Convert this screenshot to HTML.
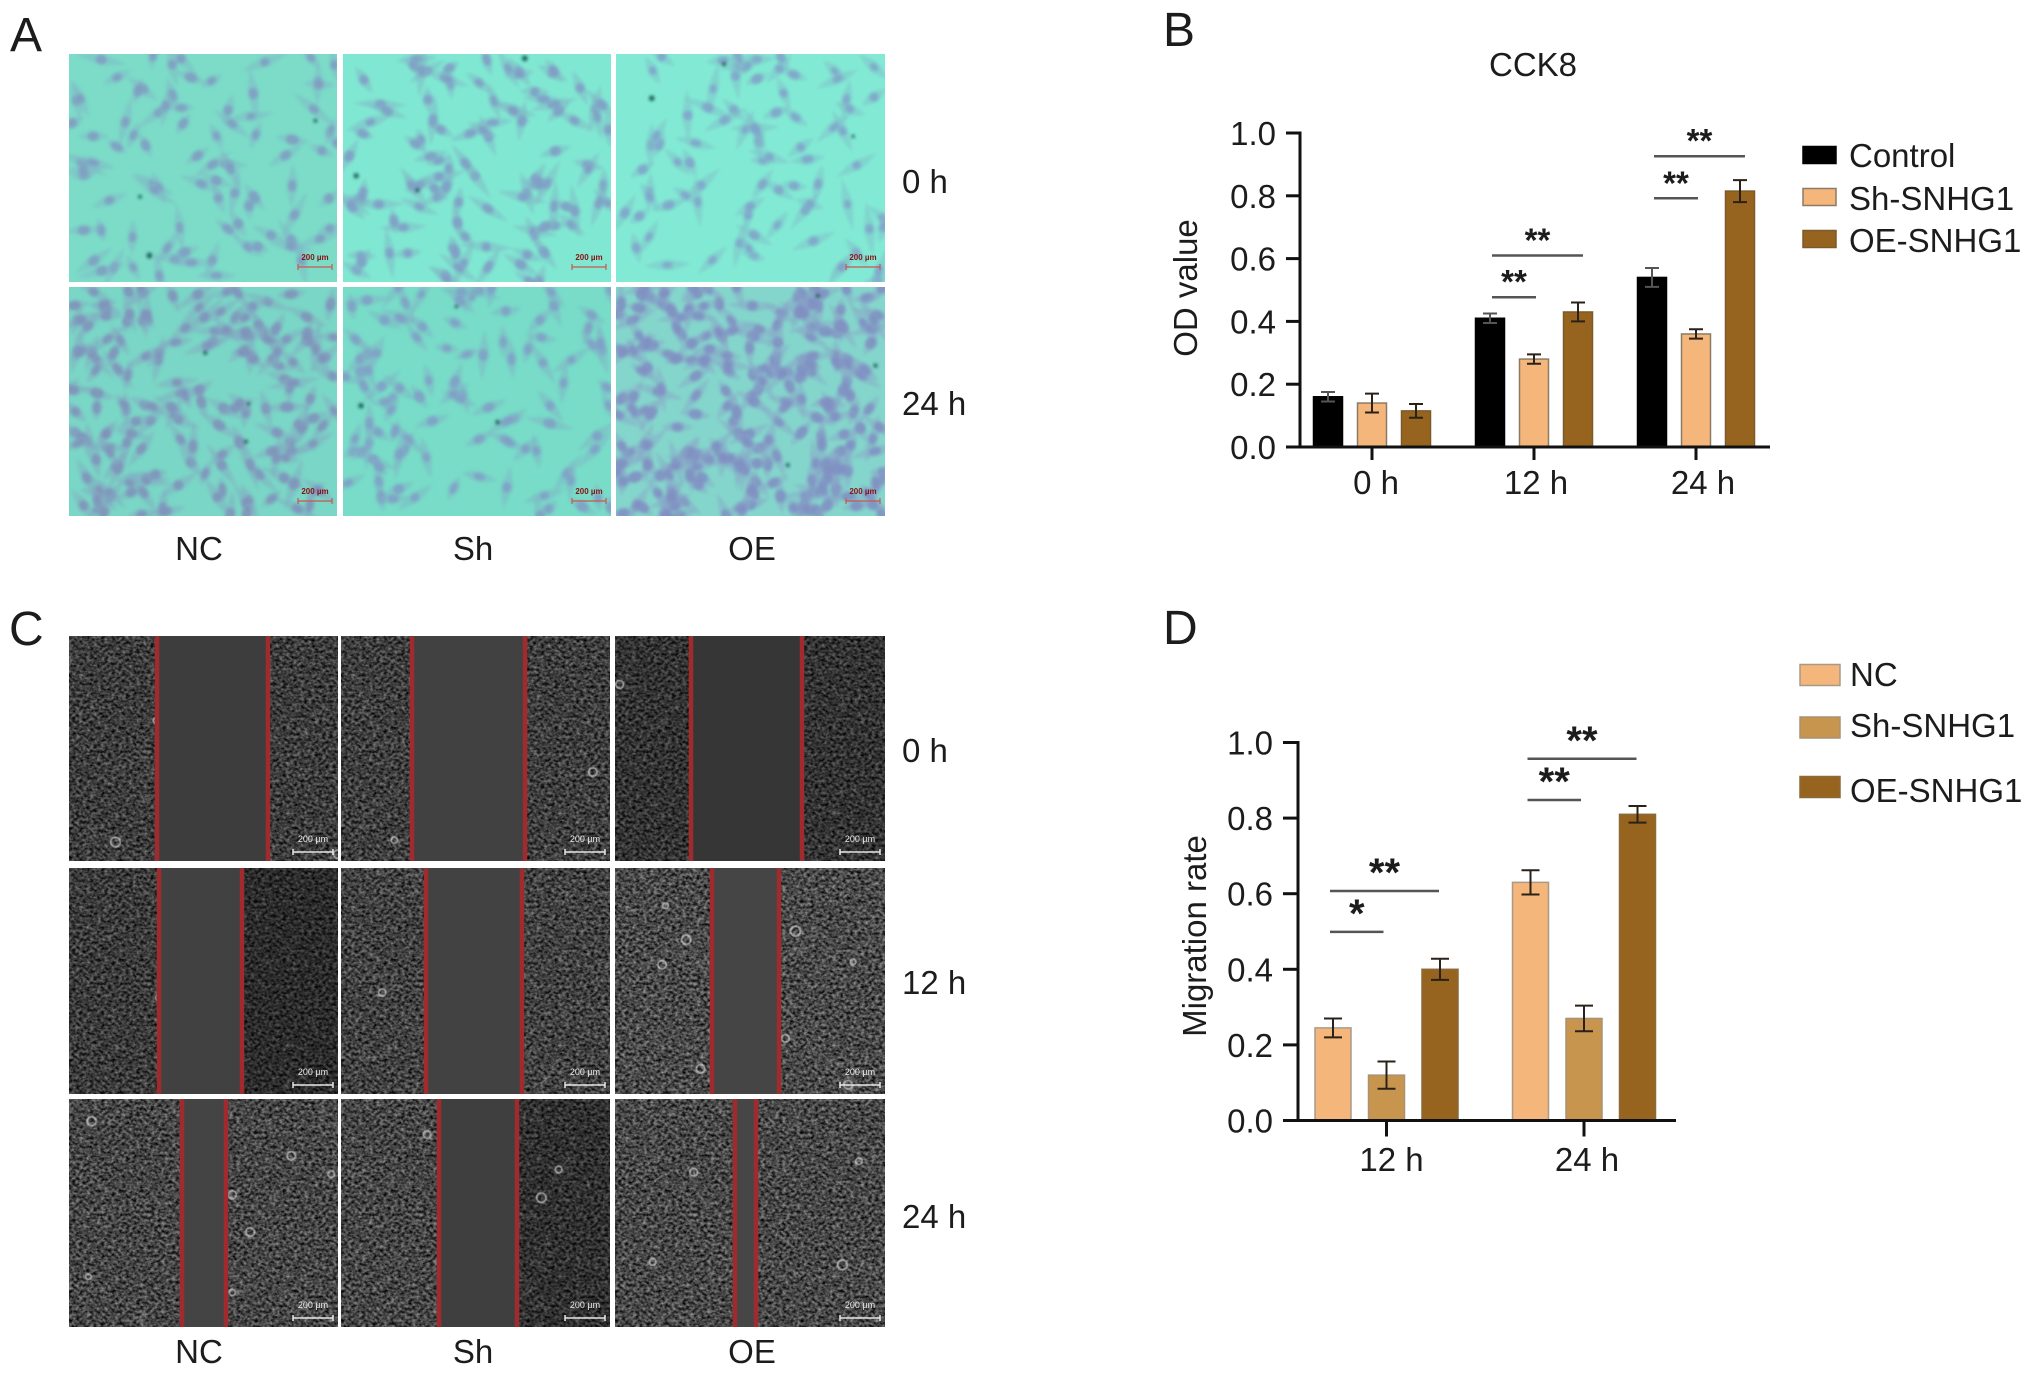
<!DOCTYPE html>
<html lang="en">
<head>
<meta charset="utf-8">
<title>SNHG1 CCK8 and migration figure</title>
<style>
html,body{margin:0;padding:0;background:#fff;width:2032px;height:1376px;overflow:hidden}
svg text{font-family:"Liberation Sans",sans-serif;fill:#1c1c1c}
</style>
</head>
<body>
<svg id="figure" xmlns="http://www.w3.org/2000/svg" width="2032" height="1376" viewBox="0 0 2032 1376">
  <defs>
    <filter id="phase" x="0" y="0" width="100%" height="100%" color-interpolation-filters="sRGB">
      <feTurbulence type="fractalNoise" baseFrequency="0.28 0.34" numOctaves="2" seed="7"/>
      <feColorMatrix type="matrix" values="0.9 0 0 0 -0.15  0.9 0 0 0 -0.15  0.9 0 0 0 -0.15  0 0 0 0 1"/>
    </filter>
    <filter id="soft" x="-5%" y="-5%" width="110%" height="110%"><feGaussianBlur stdDeviation="1.5"/></filter>
    <filter id="softer" x="-5%" y="-5%" width="110%" height="110%"><feGaussianBlur stdDeviation="0.6"/></filter>
  </defs>
  <g id="panelA"></g>
  <g id="panelC"></g>
  <g id="chartB"></g>
  <g id="chartD"></g>

  <g font-size="48">
    <text x="10" y="51">A</text>
    <text x="1163" y="46">B</text>
    <text x="9" y="645">C</text>
    <text x="1163" y="644">D</text>
  </g>
  <g font-size="33">
    <text x="902" y="193">0 h</text>
    <text x="902" y="415">24 h</text>
    <text x="199" y="560" text-anchor="middle">NC</text>
    <text x="473" y="560" text-anchor="middle">Sh</text>
    <text x="752" y="560" text-anchor="middle">OE</text>
  </g>
  <g font-size="33">
    <text x="902" y="762">0 h</text>
    <text x="902" y="994">12 h</text>
    <text x="902" y="1228">24 h</text>
    <text x="199" y="1363" text-anchor="middle">NC</text>
    <text x="473" y="1363" text-anchor="middle">Sh</text>
    <text x="752" y="1363" text-anchor="middle">OE</text>
  </g>
</svg>
<script>
/* ---------- chart data ---------- */
const yTickValues = [0, 0.2, 0.4, 0.6, 0.8, 1.0];
const yTickText = ['0.0', '0.2', '0.4', '0.6', '0.8', '1.0'];

const bCategories = ['0 h', '12 h', '24 h'];
const bSeriesNames = ['Control', 'Sh-SNHG1', 'OE-SNHG1'];
const bControl = [0.16, 0.41, 0.54];
const bSh = [0.14, 0.28, 0.36];
const bOE = [0.115, 0.43, 0.815];
const bControlErr = [0.015, 0.015, 0.03];
const bShErr = [0.03, 0.015, 0.015];
const bOEErr = [0.022, 0.03, 0.035];
const bSigGroups = [1, 1, 2, 2];
const bSigEndSeries = [1, 2, 1, 2];
const bSigLevels = [0.477, 0.61, 0.792, 0.926];
const bSigMarks = ['**', '**', '**', '**'];

const dCategories = ['12 h', '24 h'];
const dSeriesNames = ['NC', 'Sh-SNHG1', 'OE-SNHG1'];
const dNC = [0.245, 0.63];
const dSh = [0.12, 0.27];
const dOE = [0.40, 0.81];
const dNCErr = [0.025, 0.032];
const dShErr = [0.036, 0.034];
const dOEErr = [0.028, 0.022];
const dSigGroups = [0, 0, 1, 1];
const dSigEndSeries = [1, 2, 1, 2];
const dSigLevels = [0.499, 0.607, 0.848, 0.957];
const dSigMarks = ['*', '**', '**', '**'];

const NS = 'http://www.w3.org/2000/svg';
function el(tag, attrs, parent) {
  const n = document.createElementNS(NS, tag);
  for (const k in attrs) n.setAttribute(k, attrs[k]);
  if (parent) parent.appendChild(n);
  return n;
}

/* ---------- bar charts ---------- */
function drawChart(root, cfg) {
  const y = v => cfg.y0 - cfg.yScale * v;
  const groupX = i => cfg.groupStart + cfg.groupStep * i;
  const barX = (g, s) => groupX(g) + (s - 1) * cfg.barStep;

  cfg.values.forEach((vals, s) => {
    vals.forEach((v, g) => {
      const cx = barX(g, s);
      const bar = el('rect', {x: cx - cfg.barW / 2, y: y(v), width: cfg.barW, height: cfg.y0 - y(v), fill: cfg.colors[s], stroke: cfg.strokes[s], 'stroke-width': 1.5}, root);
      
      
      const e = cfg.errors[s][g];
      const d = 'M' + cx + ' ' + y(v + e) + 'V' + y(v - e) + 'M' + (cx - cfg.capW) + ' ' + y(v + e) + 'H' + (cx + cfg.capW) + 'M' + (cx - cfg.capW) + ' ' + y(v - e) + 'H' + (cx + cfg.capW);
      const err = el('path', {d: d, fill: 'none', stroke: s === 0 && cfg.colors[0] === '#000000' ? '#555' : '#2a2118', 'stroke-width': 2}, root);
      
      
    });
  });

  const yAxis = el('line', {x1: cfg.axisX, x2: cfg.axisX, y1: y(1) - 1.5, y2: cfg.y0, stroke: '#111', 'stroke-width': 3}, root);
  
  
  const xAxis = el('line', {x1: cfg.axisX - cfg.tickLen, x2: cfg.axisEnd, y1: cfg.y0, y2: cfg.y0, stroke: '#111', 'stroke-width': 3}, root);
  
  

  yTickValues.forEach((v, i) => {
    const t = el('line', {x1: cfg.axisX - cfg.tickLen, x2: cfg.axisX, y1: y(v), y2: y(v), stroke: '#111', 'stroke-width': 3}, root);
    
    
    const l = el('text', {x: cfg.tickLabelX, y: y(v) + 12, 'text-anchor': 'end', 'font-size': 33}, root);
    l.textContent = yTickText[i];
    
    
  });

  cfg.categories.forEach((c, i) => {
    const t = el('line', {x1: groupX(i), x2: groupX(i), y1: cfg.y0, y2: cfg.y0 + cfg.xTickLen, stroke: '#111', 'stroke-width': 3}, root);
    
    
    const l = el('text', {x: groupX(i) + cfg.catOffset[i], y: cfg.catY, 'text-anchor': 'middle', 'font-size': 33}, root);
    l.textContent = c;
    
    
  });

  cfg.sigGroups.forEach((g, i) => {
    const x1 = barX(g, 0) + cfg.sigPad;
    const x2 = barX(g, cfg.sigEnd[i]) + cfg.sigPad + (cfg.sigEnd[i] === 2 ? cfg.sigLongPad : 0);
    const ly = y(cfg.sigLevels[i]);
    const line = el('line', {x1: x1, x2: x2, y1: ly, y2: ly, stroke: '#555', 'stroke-width': 2.5}, root);
    
    
    const m = el('text', {x: (x1 + x2) / 2, y: ly + cfg.starDy, 'text-anchor': 'middle', 'font-size': cfg.starSize, 'font-weight': 'bold'}, root);
    m.textContent = cfg.sigMarks[i];
    
    
  });

  const yt = el('text', {transform: 'translate(' + cfg.yTitleX + ' ' + cfg.yTitleY + ') rotate(-90)', 'text-anchor': 'middle', 'font-size': 33}, root);
  yt.textContent = cfg.yTitle;
  
  

  cfg.seriesNames.forEach((name, i) => {
    const sw = el('rect', {x: cfg.legendX, y: cfg.legendY[i] - cfg.swH / 2, width: cfg.swW, height: cfg.swH, fill: cfg.colors[i], stroke: cfg.strokes[i], 'stroke-width': 1.5}, root);
    
    
    const tx = el('text', {x: cfg.legendTextX, y: cfg.legendTextY[i], 'font-size': 33}, root);
    tx.textContent = name;
    
    
  });
}

const rootB = document.getElementById('chartB');
const titleB = el('text', {x: 1533, y: 76, 'text-anchor': 'middle', 'font-size': 33}, rootB);
titleB.textContent = 'CCK8';



drawChart(rootB, {
  y0: 447, yScale: 314, groupStart: 1372, groupStep: 162, barStep: 44, barW: 29, capW: 7,
  axisX: 1300, axisEnd: 1770, tickLen: 14, xTickLen: 13, tickLabelX: 1276, catOffset: [4, 2, 7], catY: 494,
  categories: bCategories, seriesNames: bSeriesNames,
  values: [bControl, bSh, bOE], errors: [bControlErr, bShErr, bOEErr],
  colors: ['#000000', '#f4b67a', '#96641f'], strokes: ['#000000', '#8d7a66', '#7d5a2a'],
  sigGroups: bSigGroups, sigEnd: bSigEndSeries, sigLevels: bSigLevels, sigMarks: bSigMarks, sigPad: 2, sigLongPad: 3,
  starSize: 33, starDy: -4,
  yTitle: 'OD value', yTitleX: 1197, yTitleY: 288,
  legendX: 1803, legendY: [155, 197, 239], swW: 33, swH: 17, legendTextX: 1849, legendTextY: [167, 210, 252]
});

drawChart(document.getElementById('chartD'), {
  y0: 1120.5, yScale: 378, groupStart: 1386.5, groupStep: 197.5, barStep: 53.5, barW: 36, capW: 9,
  axisX: 1298, axisEnd: 1676, tickLen: 15, xTickLen: 16, tickLabelX: 1273, catOffset: [5, 3], catY: 1171,
  categories: dCategories, seriesNames: dSeriesNames,
  values: [dNC, dSh, dOE], errors: [dNCErr, dShErr, dOEErr],
  colors: ['#f4b67a', '#c8954f', '#96641f'], strokes: ['#a89a88', '#a89272', '#8a6a3a'],
  sigGroups: dSigGroups, sigEnd: dSigEndSeries, sigLevels: dSigLevels, sigMarks: dSigMarks, sigPad: -3, sigLongPad: 2,
  starSize: 40, starDy: -5,
  yTitle: 'Migration rate', yTitleX: 1206, yTitleY: 936,
  legendX: 1800, legendY: [675, 727.5, 787], swW: 40, swH: 21, legendTextX: 1850, legendTextY: [686, 737, 802]
});

/* ---------- decorative micrograph textures (seeded, not chart data) ---------- */
let seed = 20240611;
function rnd() {
  seed = (seed * 1664525 + 1013904223) >>> 0;
  return seed / 4294967296;
}

const aPanels = [
  {x: 69, y: 54, w: 268, h: 228, bg: '#7cdcc8', cells: 85, scale: 0.85, body: '#7fb8c6', nuc: '#7f9ac2'},
  {x: 343, y: 54, w: 268, h: 228, bg: '#80e8d2', cells: 105, scale: 0.85, body: '#7fb8c6', nuc: '#7f9ac6'},
  {x: 616, y: 54, w: 269, h: 228, bg: '#82ead4', cells: 80, scale: 0.8, body: '#7fc0ca', nuc: '#7fa0ca'},
  {x: 69, y: 287, w: 268, h: 229, bg: '#7ad6c6', cells: 170, scale: 0.9, body: '#82acc2', nuc: '#7f90ba'},
  {x: 343, y: 287, w: 268, h: 229, bg: '#78dcc8', cells: 100, scale: 0.85, body: '#7fb4c6', nuc: '#7f9cc6'},
  {x: 616, y: 287, w: 269, h: 229, bg: '#84d6cc', cells: 240, scale: 0.95, body: '#88a8c8', nuc: '#808cc2'}
];
const rootA = document.getElementById('panelA');
aPanels.forEach((p) => {
  const svg = el('svg', {x: p.x, y: p.y, width: p.w, height: p.h}, rootA);
  
  
  const bg = el('rect', {width: p.w, height: p.h, fill: p.bg}, svg);
  
  
  const g = el('g', {filter: 'url(#soft)'}, svg);
  
  
  for (let i = 0; i < p.cells; i++) {
    const cx = rnd() * p.w, cy = rnd() * p.h, a = rnd() * 180 - 90;
    const len = 12 + rnd() * 16;
    const c = el('g', {transform: 'translate(' + cx.toFixed(1) + ' ' + cy.toFixed(1) + ') rotate(' + a.toFixed(1) + ')'}, g);
    
    
    const body = el('path', {d: 'M0 ' + (-len) + 'Q6 -5 5.5 0T0 ' + len + 'Q-6 5 -5.5 0T0 ' + (-len) + 'Z', fill: p.body, opacity: 0.5}, c);
    
    
    const nuc = el('ellipse', {rx: (4 + rnd() * 2) * p.scale, ry: (5.5 + rnd() * 2.5) * p.scale, fill: p.nuc, opacity: 0.8}, c);
    
    
  }
  for (let i = 0; i < 3; i++) {
    const sp = el('circle', {cx: rnd() * p.w, cy: rnd() * p.h, r: 1.5 + rnd() * 1.5, fill: '#1c5f5c'}, g);
    
    
  }
  const bar = el('path', {d: 'M' + (p.w - 39) + ' ' + (p.h - 15) + 'H' + (p.w - 5) + 'M' + (p.w - 39) + ' ' + (p.h - 18) + 'v6M' + (p.w - 5) + ' ' + (p.h - 18) + 'v6', stroke: '#c8584e', 'stroke-width': 1.2, fill: 'none'}, svg);
  
  
  const lab = el('text', {x: p.w - 22, y: p.h - 22, 'text-anchor': 'middle', 'font-size': 8, 'font-weight': 'bold', style: 'fill:#8a1212'}, svg);
  lab.textContent = '200 µm';
  
  
});

const cPanels = [
  {x: 69, y: 636, w: 269, h: 225, l: 157, r: 268, gap: '#3d3d3d', dim: 0.22, right: 0, streak: 90, rings: 3},
  {x: 341, y: 636, w: 269, h: 225, l: 412, r: 525, gap: '#414141', dim: 0.2, right: 0, streak: 90, rings: 3},
  {x: 615, y: 636, w: 270, h: 225, l: 691, r: 802, gap: '#363636', dim: 0.34, right: 0, streak: 70, rings: 3},
  {x: 69, y: 868, w: 269, h: 226, l: 159, r: 242, gap: '#414141', dim: 0.24, right: 0.25, streak: 70, rings: 3},
  {x: 341, y: 868, w: 269, h: 226, l: 426, r: 522, gap: '#424242', dim: 0.16, right: 0, streak: 190, rings: 2},
  {x: 615, y: 868, w: 270, h: 226, l: 712, r: 779, gap: '#454545', dim: 0.06, right: 0, streak: 210, rings: 10},
  {x: 69, y: 1099, w: 269, h: 228, l: 182, r: 226, gap: '#444444', dim: 0.1, right: 0, streak: 220, rings: 8},
  {x: 341, y: 1099, w: 269, h: 228, l: 439, r: 517, gap: '#3f3f3f', dim: 0.1, right: 0.3, streak: 170, rings: 5},
  {x: 615, y: 1099, w: 270, h: 228, l: 735, r: 756, gap: '#464646', dim: 0.08, right: 0, streak: 230, rings: 4}
];
const rootC = document.getElementById('panelC');
cPanels.forEach((p) => {
  const svg = el('svg', {x: p.x, y: p.y, width: p.w, height: p.h}, rootC);
  
  
  const tex = el('rect', {width: p.w, height: p.h, filter: 'url(#phase)'}, svg);
  
  
  const dim = el('rect', {width: p.w, height: p.h, fill: '#000', opacity: p.dim}, svg);
  
  
  const lx = p.l - p.x, rx = p.r - p.x;
  if (p.right > 0) {
    const shade = el('rect', {x: rx, y: 0, width: p.w - rx, height: p.h, fill: '#000', opacity: p.right}, svg);
    
    
  }
  const g = el('g', {filter: 'url(#softer)'}, svg);
  
  
  for (let i = 0; i < p.streak; i++) {
    const cx = rnd() * p.w, cy = rnd() * p.h, a = rnd() * 3.14, len = 3 + rnd() * 5;
    const s = el('line', {x1: cx - Math.cos(a) * len, y1: cy - Math.sin(a) * len, x2: cx + Math.cos(a) * len, y2: cy + Math.sin(a) * len, stroke: '#bcbcbc', 'stroke-width': 1, opacity: 0.3}, g);
    
    
  }
  for (let i = 0; i < p.rings; i++) {
    const ring = el('circle', {cx: rnd() * p.w, cy: rnd() * p.h, r: 2.5 + rnd() * 2.5, fill: 'none', stroke: '#e4e4e4', 'stroke-width': 1.6, opacity: 0.7}, g);
    
    
  }
  const gap = el('rect', {x: lx, y: 0, width: rx - lx, height: p.h, fill: p.gap}, svg);
  
  
  [lx, rx].forEach((x) => {
    const r = el('line', {x1: x, x2: x, y1: 0, y2: p.h, stroke: '#a02b2f', 'stroke-width': 4.5}, svg);
    
    
  });
  const bar = el('path', {d: 'M' + (p.w - 45) + ' ' + (p.h - 9) + 'H' + (p.w - 5) + 'M' + (p.w - 45) + ' ' + (p.h - 12) + 'v6M' + (p.w - 5) + ' ' + (p.h - 12) + 'v6', stroke: '#e8e8e8', 'stroke-width': 1.5, fill: 'none'}, svg);
  
  
  const lab = el('text', {x: p.w - 25, y: p.h - 19, 'text-anchor': 'middle', 'font-size': 9, style: 'fill:#e8e8e8'}, svg);
  lab.textContent = '200 µm';
  
  
});
</script>
</body>
</html>
